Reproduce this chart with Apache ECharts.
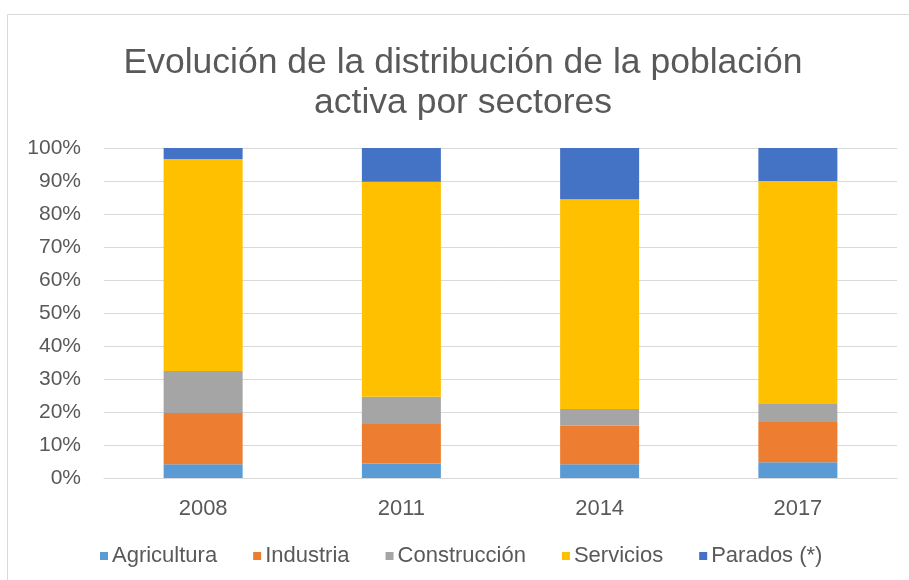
<!DOCTYPE html>
<html><head><meta charset="utf-8">
<script src="https://cdn.jsdelivr.net/npm/echarts@6/dist/echarts.min.js"></script>
<style>html,body{margin:0;padding:0;background:#fff}#c{width:909px;height:580px}</style>
</head><body><div id="c"></div>
<script>
const categories = ['2008', '2011', '2014', '2017'];
const agricultura = [4.2, 4.4, 4.2, 4.8];
const industria = [15.5, 12.0, 11.6, 12.2];
const construccion = [12.7, 8.2, 5.1, 5.4];
const servicios = [64.3, 65.2, 63.6, 67.6];
const parados = [3.3, 10.2, 15.5, 10.0];
const seriesNames = ['Agricultura', 'Industria', 'Construcción', 'Servicios', 'Parados (*)'];
const colors = ['#5B9BD5', '#ED7D31', '#A5A5A5', '#FFC000', '#4472C4'];
const yTicks = [0, 10, 20, 30, 40, 50, 60, 70, 80, 90, 100];

const dataSets = [agricultura, industria, construccion, servicios, parados];
const font = 'Liberation Sans, Arial, sans-serif';
const chart = echarts.init(document.getElementById('c'), null, {renderer: 'canvas'});
chart.setOption({
  animation: false,
  backgroundColor: '#fff',
  color: colors,
  graphic: [{
    type: 'rect', shape: {x: 7.5, y: 14.5, width: 920, height: 600},
    style: {fill: 'none', stroke: '#d9d9d9', lineWidth: 1}, silent: true, z: -1
  }],
  title: {
    text: 'Evolución de la distribución de la población\nactiva por sectores',
    left: 463, top: 43, padding: 0, textAlign: 'center',
    textStyle: {fontFamily: font, fontSize: 35.5, fontWeight: 'normal', color: '#595959', lineHeight: 40}
  },
  legend: {
    top: 540, left: 95,
    itemWidth: 8, itemHeight: 8, itemGap: 36, icon: 'rect',
    textStyle: {fontFamily: font, fontSize: 22, color: '#595959', padding: [0, 0, 0, -1]},
    data: seriesNames
  },
  grid: {left: 104, right: 12, top: 148, bottom: 102},
  xAxis: {
    type: 'category', data: categories,
    axisLine: {lineStyle: {color: '#d9d9d9'}},
    axisTick: {show: false},
    axisLabel: {fontFamily: font, fontSize: 22, color: '#595959', margin: 20}
  },
  yAxis: {
    type: 'value', min: 0, max: 100, interval: 10,
    axisLine: {show: false}, axisTick: {show: false},
    splitLine: {lineStyle: {color: '#d9d9d9'}},
    axisLabel: {fontFamily: font, fontSize: 21, color: '#595959', margin: 23,
      formatter: v => yTicks.includes(v) ? v + '%' : ''}
  },
  series: dataSets.map((d, i) => ({
    name: seriesNames[i], type: 'bar', stack: 'total', data: d,
    barWidth: 79, itemStyle: {color: colors[i]}
  }))
});
</script></body></html>
